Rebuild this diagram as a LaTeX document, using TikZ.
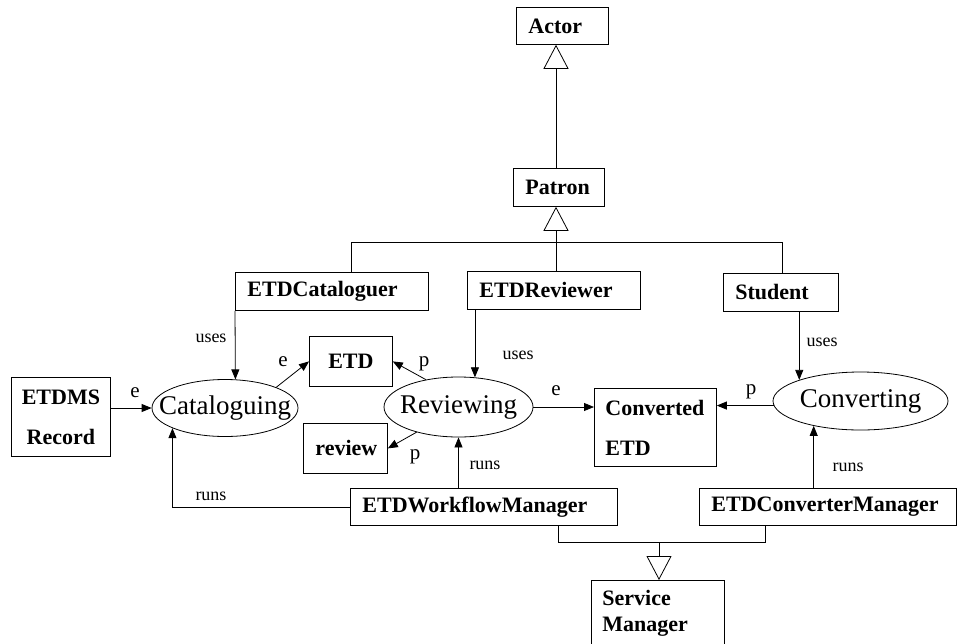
\documentclass[tikz,border=0pt]{standalone}
\usepackage{fontspec}
\setmainfont{Liberation Serif}
\usetikzlibrary{arrows.meta,shapes.geometric}

\tikzset{
  klass/.style={draw, anchor=north west, align=left, inner xsep=12pt, inner ysep=0pt, font=\bfseries\fontsize{22}{40}\selectfont},
  usecase/.style={draw, ellipse, inner sep=0pt, font=\fontsize{27}{30}\selectfont},
  lbl/.style={inner sep=0pt, font=\fontsize{21}{21}\selectfont},
  rel/.style={inner sep=0pt, font=\fontsize{18}{18}\selectfont},
  arr/.style={-{Triangle[length=10pt,width=8pt]}},
  gen/.style={-{Triangle[open,length=24pt,width=25pt]}}
}
\newcommand{\ucname}[1]{\makebox[0pt]{#1}}

\begin{document}
\begin{tikzpicture}[x=1pt,y=-1pt,line width=0.8pt]
\useasboundingbox (0,0) rectangle (964,643);

%Shape: Rectangle [Actor]
\node[klass, text width=68pt, minimum height=37pt] (Actor) at (516,7) {Actor};
%Shape: Rectangle [Patron]
\node[klass, text width=67pt, minimum height=38pt] (Patron) at (513,168) {Patron};
%Shape: Rectangle [roles]
\node[klass, text width=169pt, minimum height=38pt] (Cataloguer) at (235,272) {ETDCataloguer};
\node[klass, text width=149pt, minimum height=38pt] (Reviewer) at (467,271) {ETDReviewer};
\node[klass, text width=91pt, minimum height=38pt] (Student) at (723,273) {Student};
%Shape: Rectangle [data]
\node[klass, align=center, inner xsep=10pt, text width=79pt, minimum height=79pt] (ETDMS) at (11,377) {ETDMS\\Record};
\node[klass, align=center, text width=59pt, minimum height=50pt] (ETD) at (309,336) {ETD};
\node[klass, text width=60pt, minimum height=50pt] (review) at (303,423) {review};
\node[klass, inner xsep=11pt, text width=100pt, minimum height=78pt] (Converted) at (594,388) {Converted\\ETD};
%Shape: Rectangle [managers]
\node[klass, text width=243pt, minimum height=37pt] (Workflow) at (350,488) {ETDWorkflowManager};
\node[klass, text width=233pt, minimum height=37pt] (ConvMgr) at (699,488) {ETDConverterManager};
\node[klass, inner xsep=11pt, text width=111pt, minimum height=66pt, font=\bfseries\fontsize{22}{26}\selectfont] (Service) at (591,580) {Service\\Manager};

%Shape: Ellipse [use cases]
\node[usecase, minimum width=146pt, minimum height=57pt] (Cataloguing) at (225,408) {\ucname{Cataloguing}};
\node[usecase, minimum width=149pt, minimum height=60pt] (Reviewing) at (458.5,407) {\ucname{Reviewing}};
\node[usecase, minimum width=175pt, minimum height=58pt] (Converting) at (860.5,401) {\ucname{Converting}};

%Straight Lines [generalisation]
\coordinate (bar) at (556,242);
\coordinate (catup) at (351,242);
\coordinate (studup) at (782,242);
\draw[gen] (Patron.north -| bar) -- (Actor.south -| bar);
\draw[gen] (Reviewer.north -| bar) -- (Patron.south -| bar);
\draw (Cataloguer.north -| catup) -- (catup) -- (studup) -- (Student.north -| studup);

\coordinate (sbar) at (659,542);
\coordinate (wfdown) at (558,542);
\coordinate (cmdown) at (765,542);
\draw (Workflow.south -| wfdown) -- (wfdown) -- (cmdown) -- (ConvMgr.south -| cmdown);
\draw[gen] (sbar) -- (Service.north -| sbar);

%Straight Lines [uses]
\draw[arr] (Cataloguer.south west) -- (Cataloguing.70);
\draw[arr] (Reviewer.south -| Reviewing.61) -- (Reviewing.61);
\draw[arr] (Student.south -| Converting.161.5) -- (Converting.161.5);

%Straight Lines [runs]
\draw[arr] (Workflow.west) -| (Cataloguing.201);
\draw[arr] (Workflow.north -| Reviewing.south) -- (Reviewing.south);
\draw[arr] (ConvMgr.north -| Converting.208.6) -- (Converting.208.6);

%Straight Lines [e / p]
\draw[arr] (ETDMS.east |- Cataloguing.west) -- (Cataloguing.west);
\draw[arr] (Cataloguing.22) -- (ETD.west);
\draw[arr] (Reviewing.140) -- (ETD.east);
\draw[arr] (Reviewing.211) -- (review.east);
\draw[arr] (Reviewing.east) -- (Reviewing.east -| Converted.west);
\draw[arr] (Converting.183) -- (Converting.183 -| Converted.east);

% Text Node
\node[lbl] (eIn) at (135,393) {e};
\node[lbl] (eCat) at (283,362) {e};
\node[lbl] (pEtd) at (424,364) {p};
\node[lbl] (pRev) at (415,457) {p};
\node[lbl] (eConv) at (556,391) {e};
\node[lbl] (pConv) at (751,392) {p};
% Text Node
\node[rel] (usesCat) at (211,338) {uses};
\node[rel] (usesRev) at (518,355) {uses};
\node[rel] (usesStu) at (822,342) {uses};
\node[rel] (runsCat) at (211,496) {runs};
\node[rel] (runsRev) at (485,465) {runs};
\node[rel] (runsConv) at (848,467) {runs};

\end{tikzpicture}
\end{document}
